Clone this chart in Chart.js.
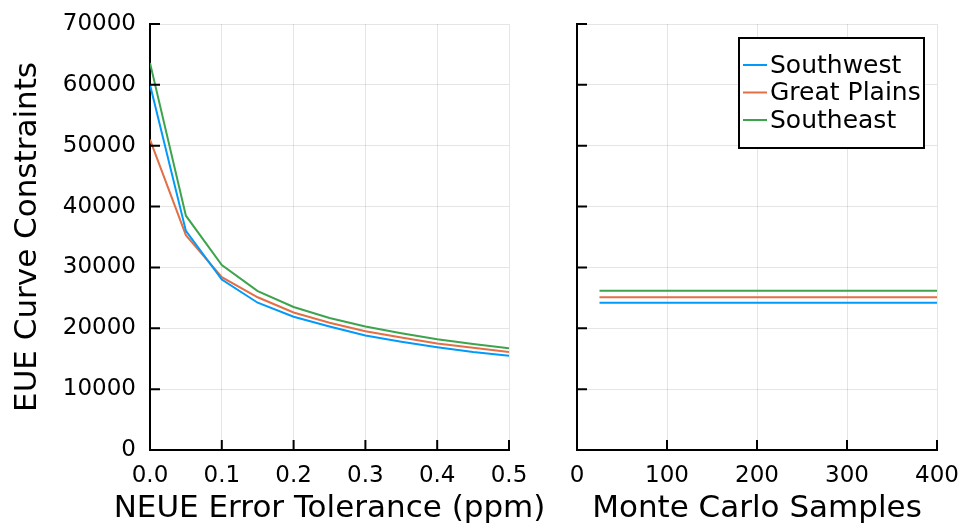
<!DOCTYPE html>
<html>
<head>
<meta charset="utf-8">
<script src="https://cdn.jsdelivr.net/npm/chart.js@4"></script>
<style>
  html, body { margin: 0; padding: 0; background: #fff; }
  #wrap { position: relative; width: 961px; height: 525px; overflow: hidden; }
  canvas { position: absolute; top: 0; }
  #left { left: 0; }
  #right { left: 560px; }
</style>
</head>
<body>
<div id="wrap">
  <canvas id="left" width="560" height="525"></canvas>
  <canvas id="right" width="401" height="525"></canvas>
</div>
<script>
  // --- data ---
  const regions = ["Southwest", "Great Plains", "Southeast"];
  const colors = ["#009af9", "#e26f46", "#3da44d"];

  const tolerance = [0, 0.05, 0.1, 0.15, 0.2, 0.25, 0.3, 0.35, 0.4, 0.45, 0.5];
  const southwestTol = [60000, 36000, 28000, 24200, 21900, 20300, 18800, 17800, 16900, 16100, 15500];
  const greatPlainsTol = [51000, 35300, 28400, 25100, 22600, 20900, 19500, 18500, 17500, 16800, 16100];
  const southeastTol = [63600, 38500, 30400, 26100, 23500, 21700, 20300, 19200, 18200, 17400, 16700];

  const samples = [25, 50, 100, 200, 400];
  const southwestMC = [24200, 24200, 24200, 24200, 24200];
  const greatPlainsMC = [25100, 25100, 25100, 25100, 25100];
  const southeastMC = [26150, 26150, 26150, 26150, 26150];

  const yTicks = [0, 10000, 20000, 30000, 40000, 50000, 60000, 70000];

  const FONT = "'DejaVu Sans', sans-serif";
  Chart.defaults.font.family = FONT;
  Chart.defaults.color = "#000";

  function series(xs, ys) {
    return xs.map((x, i) => ({ x: x, y: ys[i] }));
  }

  function datasets(xs, lists) {
    return lists.map((ys, i) => ({
      label: regions[i],
      data: series(xs, ys),
      borderColor: colors[i],
      backgroundColor: colors[i],
      borderWidth: 2,
      pointRadius: 0,
      tension: 0
    }));
  }

  // Plots.jl style ticks point into the plot area
  const innerTicks = {
    id: "innerTicks",
    afterDraw(chart) {
      const ctx = chart.ctx;
      const a = chart.chartArea;
      const xs = chart.scales.x, ys = chart.scales.y;
      ctx.save();
      ctx.strokeStyle = "#000";
      ctx.lineWidth = 2;
      ctx.beginPath();
      xs.ticks.forEach(t => {
        const px = xs.getPixelForValue(t.value);
        ctx.moveTo(px, a.bottom);
        ctx.lineTo(px, a.bottom - 10);
      });
      ys.ticks.forEach(t => {
        const py = ys.getPixelForValue(t.value);
        ctx.moveTo(a.left, py);
        ctx.lineTo(a.left + 10, py);
      });
      ctx.stroke();
      ctx.restore();
    }
  };

  // x title drawn by hand: the built-in one is squeezed to the axis width
  const xTitle = {
    id: "xTitle",
    afterDraw(chart, args, opts) {
      const ctx = chart.ctx;
      const a = chart.chartArea;
      ctx.save();
      ctx.font = "31px " + FONT;
      ctx.fillStyle = "#000";
      ctx.textAlign = "center";
      ctx.textBaseline = "alphabetic";
      ctx.fillText(opts.text, (a.left + a.right) / 2, 517);
      ctx.restore();
    }
  };

  const boxLegend = {
    id: "boxLegend",
    afterDraw(chart) {
      const ctx = chart.ctx;
      const a = chart.chartArea;
      const left = a.right - 198, top = a.top + 14, w = 185, h = 110;
      ctx.save();
      ctx.fillStyle = "#fff";
      ctx.fillRect(left, top, w, h);
      ctx.strokeStyle = "#000";
      ctx.lineWidth = 2;
      ctx.strokeRect(left, top, w, h);
      ctx.font = "25px " + FONT;
      ctx.textBaseline = "middle";
      chart.data.datasets.forEach((ds, i) => {
        const cy = top + 27 + i * 27.5;
        ctx.strokeStyle = ds.borderColor;
        ctx.beginPath();
        ctx.moveTo(left + 4, cy);
        ctx.lineTo(left + 28, cy);
        ctx.stroke();
        ctx.fillStyle = "#000";
        ctx.fillText(ds.label, left + 31, cy + 1);
      });
      ctx.restore();
    }
  };

  function yScale(showLabels, width) {
    return {
      type: "linear",
      min: 0,
      max: 70000,
      afterBuildTicks: s => { s.ticks = yTicks.map(v => ({ value: v })); },
      afterFit: s => { s.width = width; s.paddingTop = 0; s.paddingBottom = 0; },
      border: { display: true, color: "#000", width: 2 },
      grid: { color: "rgba(0,0,0,0.1)", lineWidth: 1, drawTicks: false },
      ticks: {
        display: showLabels,
        padding: 14,
        font: { size: 23 },
        callback: v => String(v)
      },
      title: {
        display: showLabels,
        text: "EUE Curve Constraints",
        font: { size: 31 },
        padding: { top: 9, bottom: 0 }
      }
    };
  }

  function xScale(min, max, step, fmt) {
    return {
      type: "linear",
      min: min,
      max: max,
      afterFit: s => { s.height = 75; s.paddingLeft = 0; s.paddingRight = 0; },
      border: { display: true, color: "#000", width: 2 },
      grid: { color: "rgba(0,0,0,0.1)", lineWidth: 1, drawTicks: false },
      ticks: {
        stepSize: step,
        autoSkip: false,
        maxRotation: 0,
        padding: 12,
        font: { size: 23 },
        callback: fmt
      }
    };
  }

  new Chart(document.getElementById("left"), {
    type: "line",
    data: { datasets: datasets(tolerance, [southwestTol, greatPlainsTol, southeastTol]) },
    options: {
      responsive: false,
      animation: false,
      layout: { padding: { top: 24, right: 51, bottom: 0, left: 0 } },
      plugins: {
        legend: { display: false },
        tooltip: { enabled: false },
        xTitle: { text: "NEUE Error Tolerance (ppm)" }
      },
      scales: {
        x: xScale(0, 0.5, 0.1, v => Number(v).toFixed(1)),
        y: yScale(true, 150)
      }
    },
    plugins: [innerTicks, xTitle]
  });

  new Chart(document.getElementById("right"), {
    type: "line",
    data: { datasets: datasets(samples, [southwestMC, greatPlainsMC, southeastMC]) },
    options: {
      responsive: false,
      animation: false,
      layout: { padding: { top: 24, right: 24, bottom: 0, left: 0 } },
      plugins: {
        legend: { display: false },
        tooltip: { enabled: false },
        xTitle: { text: "Monte Carlo Samples" }
      },
      scales: {
        x: xScale(0, 400, 100, v => String(v)),
        y: yScale(false, 17)
      }
    },
    plugins: [innerTicks, xTitle, boxLegend]
  });
</script>
</body>
</html>
